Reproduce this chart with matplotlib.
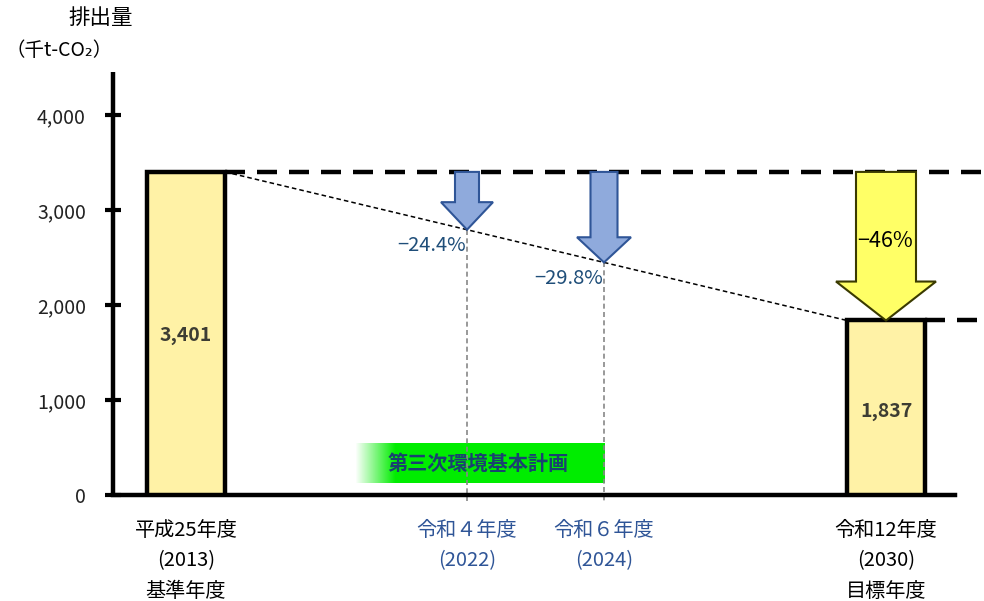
import numpy as np
import matplotlib
matplotlib.use("Agg")
import matplotlib.pyplot as plt
from matplotlib.patches import Polygon
from matplotlib.ticker import FuncFormatter

plt.rcParams['font.family'] = ['Noto Sans CJK JP', 'DejaVu Sans']

# ---- data ----
bar_labels = ["平成25年度\n(2013)\n基準年度", "令和12年度\n(2030)\n目標年度"]
bar_values = [3401, 1837]
bar_texts = ["3,401", "1,837"]
mid_labels = ["令和４年度\n(2022)", "令和６年度\n(2024)"]
mid_pcts = ["−24.4%", "−29.8%"]
target_pct = "−46%"
plan_label = "第三次環境基本計画"
yticks = [0, 1000, 2000, 3000, 4000]

# ---- layout (x in px-like units) ----
bar_x = [186, 886]
bar_w = 78
mid_x = [467, 604]
bar_text_frac = [0.495, 0.476]

fig = plt.figure(figsize=(9.84, 6.01), dpi=100)
ax = fig.add_axes([113/984, (601-495)/601, (984-113)/984, (495-72)/601])
ax.set_xlim(113, 984)
ax.set_ylim(0, (495-72)/0.095)

for s in ['top', 'right']:
    ax.spines[s].set_visible(False)
ax.spines['left'].set_linewidth(3.2)
ax.spines['bottom'].set_linewidth(3.2)
ax.spines['bottom'].set_bounds(113, 955)
ax.spines['left'].set_capstyle('butt')

# bars
ax.bar(bar_x, bar_values, width=bar_w, color='#fff2a6', edgecolor='black',
       linewidth=3.2, zorder=3)
for x, v, t, f in zip(bar_x, bar_values, bar_texts, bar_text_frac):
    ax.text(x, v * f, t, ha='center', va='center',
            fontsize=14, fontweight='bold', color='#3d3d33', zorder=5)

# thick dashed reference lines
x0r = bar_x[0] + bar_w/2
x1l = bar_x[1] - bar_w/2
x1r = bar_x[1] + bar_w/2
ax.plot([x0r, 984], [bar_values[0]]*2, color='black', lw=3.2,
        dashes=(4.5, 2.7), zorder=2, clip_on=False)
ax.plot([x1r, 984], [bar_values[1]]*2, color='black', lw=3.2,
        dashes=(4.5, 2.7), zorder=2, clip_on=False)

# thin dashed trend line
ax.plot([x0r, x1l], bar_values, color='black', lw=1.1, dashes=(3, 2), zorder=4)

def line_at(x):
    return np.interp(x, [x0r, x1l], bar_values)

# vertical dotted lines
for x in mid_x:
    ax.plot([x, x], [line_at(x), -60], color='#888888', lw=1.2,
            dashes=(3, 2), zorder=2, clip_on=False)

def down_arrow(x, top, tip, shaft_hw, head_hw, head_len, fc, ec, lw=1.5):
    pts = [(x - shaft_hw, top), (x + shaft_hw, top), (x + shaft_hw, tip + head_len),
           (x + head_hw, tip + head_len), (x, tip), (x - head_hw, tip + head_len),
           (x - shaft_hw, tip + head_len)]
    ax.add_patch(Polygon(pts, closed=True, facecolor=fc, edgecolor=ec,
                         linewidth=lw, zorder=5, joinstyle='miter'))

blue_fc, blue_ec = '#8faadc', '#2f5597'
down_arrow(mid_x[0], bar_values[0], line_at(mid_x[0]), 12, 26, 290, blue_fc, blue_ec)
down_arrow(mid_x[1], bar_values[0], line_at(mid_x[1]), 13.5, 27, 265, blue_fc, blue_ec)
down_arrow(bar_x[1], bar_values[0], bar_values[1], 30, 50, 410, '#ffff66', '#3a3a00')

# percentage labels
ax.text(mid_x[0] - 1, line_at(mid_x[0]) - 170, mid_pcts[0], ha='right', va='center',
        fontsize=14.5, color='#1f4e79', zorder=6)
ax.text(mid_x[1] - 1, line_at(mid_x[1]) - 170, mid_pcts[1], ha='right', va='center',
        fontsize=14.5, color='#1f4e79', zorder=6)
ax.text(bar_x[1] - 1, 2670, target_pct, ha='center', va='center', fontsize=15.5,
        color='black', zorder=6)

# plan gradient box
gx0, gx1 = 355, 605
gy0, gy1 = 126, 537
n = 256
ramp = np.clip(np.linspace(0, 1, n) / 0.16, 0, 1)
img = np.zeros((1, n, 4))
img[..., 0] = 0.0
img[..., 1] = 0.93
img[..., 2] = 0.0
img[..., 3] = ramp
ax.imshow(img, extent=(gx0, gx1, gy0, gy1), aspect='auto', zorder=1,
          interpolation='bilinear')
ax.text(478, (gy0 + gy1) / 2, plan_label, ha='center', va='center',
        fontsize=14.5, fontweight='bold', color='#1a4170', zorder=6)

# y axis ticks
ax.set_yticks(yticks)
ax.yaxis.set_major_formatter(FuncFormatter(lambda v, p: f"{int(v):,}"))
ax.tick_params(axis='y', direction='inout', length=11, width=3, labelsize=14,
               pad=14, labelcolor='#222222')

# x labels
ax.set_xticks(bar_x[:1] + mid_x + bar_x[1:])
ax.set_xticklabels([bar_labels[0]] + mid_labels + [bar_labels[1]])
ax.tick_params(axis='x', length=0, labelsize=14.5, pad=18)
for lab in ax.get_xticklabels():
    lab.set_linespacing(1.58)
    lab.set_verticalalignment('top')
cols = ['black', '#2f5597', '#2f5597', 'black']
for lab, c in zip(ax.get_xticklabels(), cols):
    lab.set_color(c)

# y-axis title
fig.text(101/984, 1 - 18/601, "排出量", ha='center', va='center', fontsize=15.5)
fig.text(59/984, 1 - 50/601, "（千t-CO₂）", ha='center', va='center', fontsize=14)

fig.savefig("out.png", dpi=100)
